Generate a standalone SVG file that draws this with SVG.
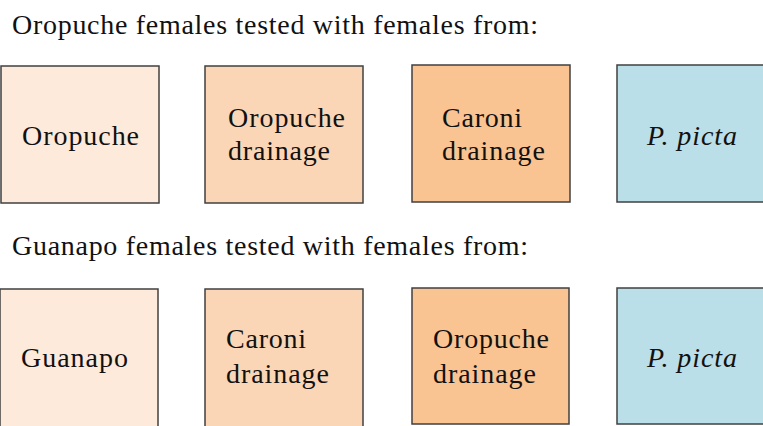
<svg xmlns="http://www.w3.org/2000/svg" width="763" height="426" viewBox="0 0 763 426">
<style>
text{font-family:"Liberation Serif","DejaVu Serif",serif;font-size:28px;fill:#111}
.b{stroke:#404040;stroke-width:1.5}
.c1{fill:#FDEADA}.c2{fill:#FBD6B6}.c3{fill:#FAC392}.c4{fill:#BBDFE8}
.i{font-style:italic}
</style>
<rect width="763" height="426" fill="#fff"/>
<text id="title1" x="12" y="34" textLength="526" lengthAdjust="spacing">Oropuche females tested with females from:</text>
<g id="r1n1"><rect class="b c1" x="1" y="66" width="158" height="137"/><text x="22" y="145" textLength="117" lengthAdjust="spacing">Oropuche</text></g>
<g id="r1n2"><rect class="b c2" x="205" y="66" width="158" height="137"/><text x="228" y="127" textLength="117" lengthAdjust="spacing">Oropuche</text><text x="228" y="160" textLength="102" lengthAdjust="spacing">drainage</text></g>
<g id="r1n3"><rect class="b c3" x="412" y="65" width="158" height="137"/><text x="442" y="127" textLength="80" lengthAdjust="spacing">Caroni</text><text x="442" y="160" textLength="103" lengthAdjust="spacing">drainage</text></g>
<g id="r1n4"><rect class="b c4" x="617" y="65" width="160" height="137"/><text class="i" x="647" y="145" textLength="90" lengthAdjust="spacing">P. picta</text></g>
<text id="title2" x="12" y="255" textLength="516" lengthAdjust="spacing">Guanapo females tested with females from:</text>
<g id="r2n1"><rect class="b c1" x="0" y="289" width="158" height="140"/><text x="21" y="367" textLength="107" lengthAdjust="spacing">Guanapo</text></g>
<g id="r2n2"><rect class="b c2" x="205" y="289" width="158" height="140"/><text x="226" y="348" textLength="80" lengthAdjust="spacing">Caroni</text><text x="226" y="383" textLength="103" lengthAdjust="spacing">drainage</text></g>
<g id="r2n3"><rect class="b c3" x="412" y="288" width="157" height="136"/><text x="433" y="348" textLength="116" lengthAdjust="spacing">Oropuche</text><text x="433" y="383" textLength="103" lengthAdjust="spacing">drainage</text></g>
<g id="r2n4"><rect class="b c4" x="617" y="288" width="160" height="136"/><text class="i" x="647" y="367" textLength="90" lengthAdjust="spacing">P. picta</text></g>
<g id="connectors"/>
</svg>
